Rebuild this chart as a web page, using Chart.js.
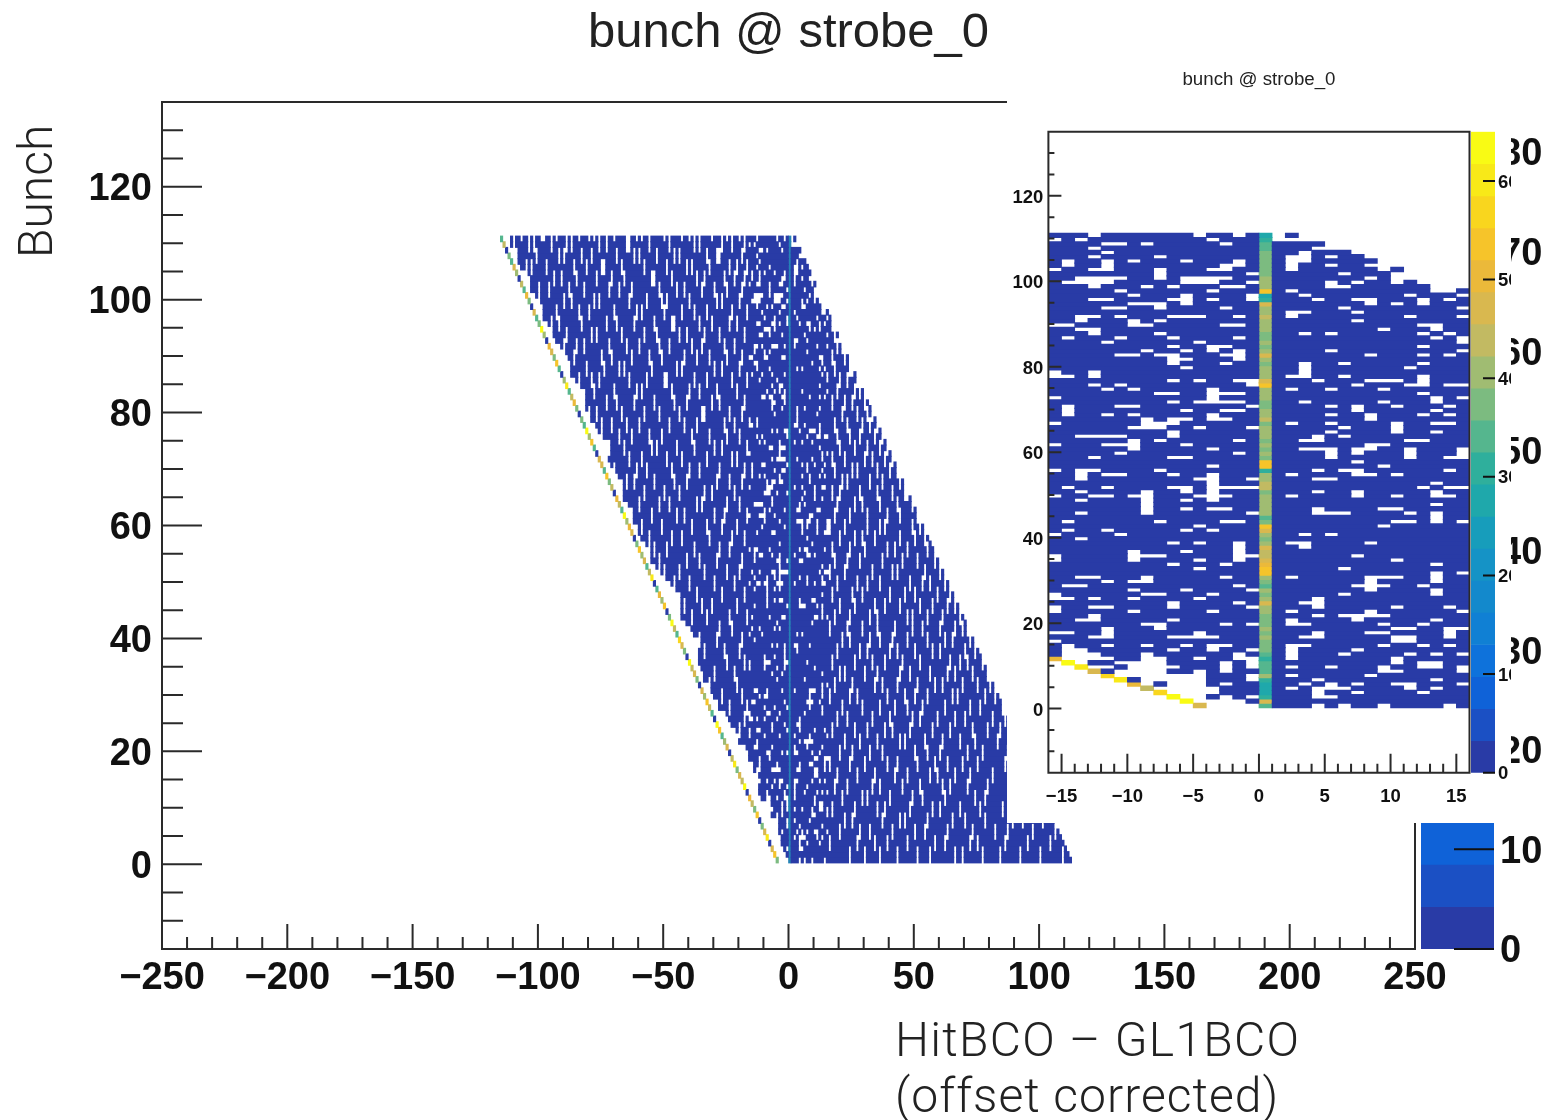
<!doctype html>
<html><head><meta charset="utf-8">
<style>
html,body{margin:0;background:#fff;overflow:hidden}
canvas{position:absolute;display:block}
#inset{background:#fff}
</style>
<script src="https://cdn.jsdelivr.net/npm/chart.js@4"></script>
</head><body>
<canvas id="main" width="1544" height="1120" style="left:0;top:0"></canvas>
<canvas id="mainBar" width="128" height="1120" style="left:1416px;top:0"></canvas>
<canvas id="inset" width="504" height="763" style="left:1007px;top:60px"></canvas>
<canvas id="insetBar" width="41" height="763" style="left:1470px;top:60px"></canvas>
<script>
const titleText = "bunch @ strobe_0";
const yAxisText = "Bunch";
const xAxisLines = ["HitBCO \u2013 GL1BCO", "(offset corrected)"];

const palette = ['#293BA6','#1B50C4','#0F62D8','#0E72DB','#1080D4','#1389CC','#1593C6','#179DBB','#1FA8AB','#2FAF9C','#55B68E','#7CBB80','#A0BC72','#C2BA62','#D9B84F','#EBB93A','#F6C42A','#F9D61E','#F8E918','#F9FB14'];

const mainXTicks = [-250,-200,-150,-100,-50,0,50,100,150,200,250];
const mainXMinor = [-240,-230,-220,-210,-190,-180,-170,-160,-140,-130,-120,-110,-90,-80,-70,-60,-40,-30,-20,-10,10,20,30,40,60,70,80,90,110,120,130,140,160,170,180,190,210,220,230,240];
const yTicks = [0,20,40,60,80,100,120];
const yMinor = [-10,-5,5,10,15,25,30,35,45,50,55,65,70,75,85,90,95,105,110,115,125,130];
const insetXTicks = [-15,-10,-5,0,5,10,15];
const insetXMinor = [-14,-13,-12,-11,-9,-8,-7,-6,-4,-3,-2,-1,1,2,3,4,6,7,8,9,11,12,13,14];
const mainZTicks = [0,10,20,30,40,50,60,70,80];
const insetZTicks = [0,10,20,30,40,50,60];
const mainBandCenters = [2.125,6.375,10.625,14.875,19.125,23.375,27.625,31.875,36.125,40.375,44.625,48.875,53.125,57.375,61.625,65.875,70.125,74.375,78.625,82.875];
const insetBandCenters = [1.625,4.875,8.125,11.375,14.625,17.875,21.125,24.375,27.625,30.875,34.125,37.375,40.625,43.875,47.125,50.375,53.625,56.875,60.125,63.375];

const rowStart = [-5,-6,-7,-8,-9,-10,-11,-12,-13,-14,-15,-16,-17,-18,-19,-20,-21,-22,-23,-24,-25,-26,-27,-28,-29,-30,-31,-32,-33,-34,-35,-36,-37,-38,-39,-40,-41,-42,-43,-44,-45,-46,-47,-48,-49,-50,-51,-52,-53,-54,-55,-56,-57,-58,-59,-60,-61,-62,-63,-64,-65,-66,-67,-68,-69,-70,-71,-72,-73,-74,-75,-76,-77,-78,-79,-80,-81,-82,-83,-84,-85,-86,-87,-88,-89,-90,-91,-92,-93,-94,-95,-96,-97,-98,-99,-100,-101,-102,-103,-104,-105,-106,-107,-108,-109,-110,-111,-112,-113,-114,-115];
const rowEnd = [113,112,111,110,109,108,107,106,105,104,103,102,101,100,99,98,97,96,95,94,93,92,91,90,89,88,87,86,85,84,83,82,81,80,79,78,77,76,75,74,73,72,71,70,69,68,67,66,65,64,63,62,61,60,59,58,57,56,55,54,53,52,51,50,49,48,47,46,45,44,43,42,41,40,39,38,37,36,35,34,33,32,31,30,29,28,27,26,25,24,23,22,21,20,19,18,17,16,15,14,13,12,11,10,9,8,7,6,5,4,3];

const insetGaps = [
[-4,-3,-2,-1,4,6,9,14],[-5,-4,-3,-2],[-6,-5,-3,-1,4,5],[-7,-6,-5,-4,4,7,12],[-8,-7,-6,-5,-4,2,4,5,6,11,13],
[-9,-7,-6,-5,-3,3,5,7,10,11,15],[-9,-8,-7,-6,-5,-1,4,13],[-11,-10,-9,-8,-7,-6,-5,-1,2,8],[-11,-10,-9,-8,-5,-3,9,10,15],[-13,-12,-10,-9,-8,-7,-3,-1,2,5,9,12,13,15],
[-14,-11,-10,-9,-8,-3,-1,10,12,13],[-15,-14,-13,-12,-9,-8,-5,-2,-1,2,10],[-15,-14,-13,-9,-2,2,6,11,13,15],[-15,-14,-7,-4,-1,2,7],[-15,-12,-9,-6,-4,-3,2,3,9,12,14],
[-16,10,11],[-13,-12,-7,-6,-5,-4,3,4,10,11,14],[-16,-15,-12,-5,4,8,9,14],[-12,-8,10,11,14,15],[-9,-8,-3,-1,2,3,9,12],
[-14,-13,-7,2,7,13],[-13,4,6,7,8,9],[-16,-10,-4,2,8,15],[-16,-13,-12,-7,-1,4,10,14],[-7,-2,3,4],
[-16,-15,-13,-10,-5,4],[-16,-9,-8,-4,6,13],[-10,-6,-1,8,13],[-15,-14,-2,7,8,9,12],[-12,-10,-9,8,13],
[-14,-13,-9,-3,2,8,9,10,13],[13,15],[-5,6],[-7,-3,13],[-16,-10,-5,-2,10],
[-16,-10,-9,-8,-2,-1,7],[-10,-6,-2],[-2,3],[-7,-5,-2,2,3,8],[-14],
[-16,-11,3,5],[-15,-12,-6,-4],[-5,9],[-15,-8,-3,-2,10,11,13,15],[13],
[-14,-9,-1,4,5,6,11,13],[-9,-6,-4,-3,4,9,10],[-9,13],[-14,-9,-6,-4],[-16,-13,-12,-10,-9,-5,-4,-3,2,7,10,13,14],
[-14,-9,-6,-4,4,7,13],[-15,-12,-7,-6,-4,-3,-2,-1,12,14,15],[-4,13],[-14,-5,-4,-1,4,5],[-14,-12,-11,-7,-4,2,7,8,10],
[-16,-14,-13,-8,4,6,7,14],[-4,9],[7],[-13,-7,-6,5,11,14,15],[-11,-2,5,7,11,15],
[-10,-4,3,4,5,7,8,11,15],[-16,-12,-11,-10,-6,8,9],[-10,-8,-2,3,4,11,12],[-14,-13,-12,-11,-7,4,6],[-7,5,10,13],
[-10,-9,-8,-5,-1,6,10],[-16,-9,-8,-7,2,5,10,13,14],[-9,-7,-6,-4,-3,8],[-15,-12,-10,-4,5,8,12,14],[-15,-6,-3,-2,7,13],
[-15,-11,-10,-1,5,7,10,14],[-7,-5,-4,-3,-2,3,9,13],[-16,-4,13,15],[-8,-7,-4,-3,-2,12],[-12,-10,-4,2,5,9],
[-13,-11,-1,7,11,12,14,15],[-7,-5,-2,-1,4,8,9,10,12],[-16,-15,-13,2,3,6,12],[-16,-13,3],[-6,3,11],
[-7,-3,3,6,12],[-7,-6,-2],[-11,-10,-8,-7,-3,-2,8,12,14],[-9,-6,-4,-2,5,15],[-7,-4,-3,12],
[-12,-5,15],[-15,-11,-7,-2,13,15],[-13,-8,3,5,12,14],[-14,-13,9,13],[-16,-15,-10,-9,-3,-2,12,13],
[-14,-10,-8,7],[-14,-13,-11,-7,-6,-5,-2,2,11,15],[2,3,7],[-12,-11,-8,-3,6,15],[-10,-9,-8,-6,8,10,12],
[-13,-12,-7,-6,-4,-1,4,7,8,12,14],[-10,-6,-1,3,11,15],[-11,-4,2,13,14],[-13,-9,-7,-3,-2,5,6,13,14],[-15,-14,-13,-12,-6,-5,-4,-1,5,7,10,12,13],
[-14,-13,-12,-11,-8,-6,-5,-4,-3,8,10,11,12],[-8,-1,6,10,11],[-16,-13,-12,-8,-4,-3,2,9],[-15,-12,-3,-2,2,5,8,9],[-15,-12,-10,-6,-2,2,3],
[-13,-8,2,3,5],[-12,3],[-13,4,5],[-12,-11,-9,-3],[-16,-14,-4,1,2,3],
[-13,-5,-2,1]
];

const stripZ = [34,46,30,28,27,28,30,40,33,34,34,30,35,36,38,37,39,36,39,38,36,37,42,39,46,41,38,41,35,37,39,52,54,50,48,43,44,46,40,38,39,48,52,38,35,41,42,39,41,39,37,44,44,42,41,32,52,54,37,39,38,41,37,39,42,41,38,44,42,39,38,37,41,39,42,52,46,39,41,41,37,41,48,39,38,39,37,38,39,41,42,44,41,39,46,30,28,52,42,39,41,38,37,36,36,37,36,35,33,30,26];
const insetEdgeZ = [47,65,65,57,44,50,60,58,46,60,64,50];
const mainEdgeZ = [48,70,60,4,80,62,50,4,72,50,58,66,4,84,56,60,48,80,58,4,62,52,46,70,84,4,44,58,72,52,62,4,48,60,56,84,4,50,62,74,46,56,84,50,4,70,54,66,46,4,80,58,44,62,52,70,48,4,60,66,52,84,44,56,66,4,58,48,70,44,60,62,4,46,72,54,84,44,50,4,48,66,58,44,80,52,4,44,70,50,60,66,4,54,84,48,44,62,4,50,66,44,58,4,52,62,46,50,4,56,44];
const mainEdgeGap = [4,4,3,4,5,4,3,3,2,3,4,3,4,5,6,7,6,5,6,7,6,5,6,6,5,5,4,3,4,3,3,3,2,3,3,3,4,5,6,7,6,6,5,4,5,6,7,8,7,6,5,4,3,2,3,4,3,2,2,3,2,3,4,3,2,2,4,5,4,3,3,3,4,5,6,5,4,4,3,3,3,4,5,6,5,4,3,3,4,5,5,4,3,3,2,3,2,2,3,4,3,2,3,4,3,2,2,3,3,2,2];

const mainSpeckRows = [110,108,106,104,102,100,98,96,94,92,90,88,86,84,82,80,78,76,74,72,70,68,66,64,62,60,58,56,54,52,50,48,46,44,42,40,38,36,34,32,30,28,26,24,22,20,18,16,14,12,10,8,6,4,2,0];
const mainSpeckCols = [
[-114,-112,-107,-99,-98,-93,-84,-80,-78,-70,-61,-59,-50,-43,-40,-31,-25,-20],
[-110,-104,-102,-95,-89,-87,-76,-73,-65,-64,-56,-48,-38,-36,-27,-23,-18],
[-109,-101,-92,-90,-83,-79,-69,-62,-60,-53,-46,-44,-33,-29,-28,-19],
[-105,-103,-97,-86,-81,-75,-74,-67,-58,-49,-41,-39,-32,-24,-21,-17],
[-106,-94,-91,-85,-77,-71,-66,-55,-54,-47,-37,-34,-26,-22,-18],
[-100,-96,-88,-82,-72,-68,-63,-52,-45,-42,-35,-30,-25,-19,17],
[-102,-90,-87,-78,-76,-64,-57,-51,-49,-40,-29,-27,-20,18],
[-99,-93,-84,-80,-70,-61,-59,-50,-43,-38,-33,-23,-17,19],
[-95,-92,-83,-73,-69,-62,-54,-47,-46,-36,-31,-24,-21,17],
[-96,-89,-79,-77,-67,-58,-53,-44,-41,-34,-28,-18,18,20],
[-90,-85,-82,-72,-65,-60,-52,-48,-39,-35,-26,-22,19,21],
[-91,-86,-75,-71,-63,-56,-51,-42,-37,-32,-25,-19,17,22],
[-88,-81,-74,-68,-66,-55,-45,-43,-30,-27,-20,18,24,25],
[-84,-79,-76,-64,-57,-50,-49,-38,-33,-23,-17,20,23,27],
[-86,-78,-70,-61,-59,-47,-40,-36,-29,-21,19,26,28],
[-83,-73,-69,-62,-54,-46,-41,-31,-28,-18,17,22,25,30],
[-80,-77,-67,-58,-52,-44,-35,-34,-24,-19,21,27,31,33],
[-75,-71,-65,-60,-48,-42,-37,-26,-22,18,23,29,32,35],
[-78,-68,-63,-56,-51,-39,-32,-25,-20,19,24,28,34,37],
[-72,-66,-55,-53,-45,-38,-30,-27,-17,20,26,31,36,39],
[-74,-64,-59,-49,-43,-33,-23,-21,17,22,30,33,38,41],
[-70,-61,-57,-47,-40,-36,-28,-18,18,25,27,35,40,43],
[-65,-62,-54,-46,-41,-29,-24,-19,21,23,32,37,44],
[-67,-58,-50,-44,-34,-31,-22,17,20,28,35,41,46,47],
[-60,-52,-48,-37,-35,-25,-20,19,26,29,36,43,49],
[-63,-55,-45,-42,-30,-26,-17,18,24,31,39,44,51],
[-59,-51,-39,-33,-27,-21,16,22,31,36,38,49,52],
[-56,-47,-43,-32,-23,-18,20,26,29,34,44,50,54],
[-54,-49,-38,-28,-24,17,24,30,39,42,47,55],
[-52,-41,-36,-29,-19,18,23,28,37,45,51,58],
[-50,-44,-34,-25,-20,16,22,33,41,43,54,60],
[-46,-40,-30,-22,19,27,31,36,48,53,56,62],
[-48,-37,-27,-18,17,25,29,40,46,50,59,64],
[-42,-35,-31,-21,20,26,34,38,44,52,57,63,66],
[-39,-33,-24,-17,18,24,32,35,47,49,55,61,68],
[-43,-28,-23,16,23,29,35,42,49,53,60,66,69,71],
[-36,-29,-19,21,24,32,36,41,47,55,62,65,72],
[-34,-26,-20,19,28,31,40,43,50,57,60,70,74],
[-37,-25,-18,17,26,33,38,45,52,64,68,71,77],
[-30,-22,20,22,30,35,44,48,56,63,66,73,79],
[-32,-21,18,25,34,37,43,51,58,61,69,75,80],
[-27,-19,16,24,27,39,46,50,55,65,67,78,82],
[-24,-17,21,29,36,42,47,53,62,72,76,85],
[-26,-18,19,23,33,40,49,52,59,66,70,81,86],
[-20,17,26,31,38,41,48,57,64,73,79,84],
[-23,22,28,35,44,46,54,61,68,74,83,91],
[-18,20,25,32,37,50,55,60,71,77,87,93],
[16,24,30,39,43,51,58,63,69,75,86,90],
[19,27,34,42,47,56,59,66,72,81,88,97],
[18,23,33,36,45,52,61,64,71,79,92,96],
[21,29,31,40,49,53,62,74,78,90,99],
[17,26,35,38,48,57,60,68,76,85,94,103],
[22,25,37,44,46,55,65,70,78,89,93,101],
[20,28,32,41,50,54,63,73,82,87,97,106],
[16,27,34,39,47,58,62,72,75,86,95,104],
[24,30,36,43,51,56,66,69,77,84,92,100,109]
];
const speckHeight = 3;
const stripColumn = 0;
const rowEdgeOffset = 0.75;

function bandColor(z, zMax){ return palette[Math.min(19, Math.floor(z / zMax * 20))]; }

function cellRuns(gapSets, edgeGapWidths){
  const out = [];
  rowStart.forEach((start, r) => {
    const gaps = gapSets[r];
    const first = start + 1 + (edgeGapWidths ? edgeGapWidths[r] : 0);
    let runStart = null;
    for (let c = first; c <= rowEnd[r]; c++){
      const filled = c < rowEnd[r] && c !== stripColumn && !gaps.has(c);
      if (filled && runStart === null) runStart = c;
      if (!filled && runStart !== null){ out.push({x:[runStart, c], y:r + rowEdgeOffset}); runStart = null; }
    }
  });
  return out;
}
const insetSets = insetGaps.map(g => new Set(g));
const mainSets = insetGaps.map(g => new Set(g));
mainSpeckRows.forEach((row, i) => {
  mainSpeckCols[i].forEach(c => {
    for (let h = 0; h < speckHeight; h++) if (mainSets[row + h]) mainSets[row + h].add(c);
  });
});

const stripCells = rowStart.map((s, r) => ({x:[stripColumn, stripColumn + 1], y:r + rowEdgeOffset}));
const mainEdgeCells = rowStart.map((s, r) => ({x:[s, s + 1], y:r + rowEdgeOffset}));
const insetEdgeCells = insetEdgeZ.map((z, r) => ({x:[rowStart[r], rowStart[r] + 1], y:r + rowEdgeOffset}));

const tickMarks = {
  id:'tickMarks',
  afterDatasetsDraw(chart, args, opts){
    const {ctx, chartArea:a, scales} = chart;
    ctx.save();
    ctx.strokeStyle = opts.color; ctx.lineWidth = opts.width;
    ctx.beginPath();
    (opts.frame || []).forEach(s => {
      if (s === 'left'){ ctx.moveTo(a.left, a.top - 1); ctx.lineTo(a.left, a.bottom + 1); }
      if (s === 'right'){ ctx.moveTo(a.right, a.top - 1); ctx.lineTo(a.right, a.bottom + 1); }
      if (s === 'top'){ ctx.moveTo(a.left, a.top); ctx.lineTo(a.right, a.top); }
      if (s === 'bottom'){ ctx.moveTo(a.left, a.bottom); ctx.lineTo(a.right, a.bottom); }
    });
    (opts.marks || []).forEach(m => {
      m.values.forEach(v => {
        const p = scales[m.axis].getPixelForValue(v);
        if (m.axis === 'x'){ ctx.moveTo(p, a.bottom); ctx.lineTo(p, a.bottom - m.len); }
        else if (m.side === 'right'){ ctx.moveTo(a.right, p); ctx.lineTo(a.right - m.len, p); }
        else { ctx.moveTo(a.left, p); ctx.lineTo(a.left + m.len, p); }
      });
    });
    ctx.stroke();
    ctx.restore();
  }
};
const axisText = {
  id:'axisText',
  afterDraw(chart){
    const ctx = chart.ctx;
    ctx.save();
    ctx.fillStyle = '#222';
    ctx.font = '300 48px Roboto';
    ctx.textBaseline = 'alphabetic';
    ctx.textAlign = 'left';
    ctx.letterSpacing = '1.3px';
    ctx.fillText(xAxisLines[0], 895, 1056);
    ctx.letterSpacing = '1px';
    ctx.fillText(xAxisLines[1], 895, 1112);
    ctx.translate(52, 258);
    ctx.rotate(-Math.PI / 2);
    ctx.letterSpacing = '0px';
    ctx.fillText(yAxisText, 0, 0);
    ctx.restore();
  }
};
const dash = v => String(v).replace('-', '\u2212');
const setTicks = list => s => { s.ticks = list.map(v => ({value:v})); };
const tickFont = size => ({family:'"Liberation Sans"', size, weight:'bold'});

function barSet(data, color, thickness){
  const d = {data, backgroundColor:color, borderWidth:0, grouped:false, barPercentage:1, categoryPercentage:1};
  if (thickness) d.barThickness = thickness;
  return d;
}
const base = {
  responsive:false, animation:false, devicePixelRatio:1, indexAxis:'y', events:[]
};

new Chart(document.getElementById('main'), {
  type:'bar',
  data:{datasets:[
    barSet(cellRuns(mainSets, mainEdgeGap), palette[0], 6),
    barSet(stripCells, '#2583B6', 6),
    barSet(mainEdgeCells, mainEdgeZ.map(z => bandColor(z, 85)), 6)
  ]},
  options:{...base,
    layout:{padding:{left:0, right:129, top:0, bottom:0}},
    plugins:{legend:{display:false}, tooltip:{enabled:false},
      title:{display:true, text:titleText, fullSize:false, color:'#222', font:{family:'"Liberation Sans"', size:49, weight:'normal'}, padding:{top:4, bottom:39.2}},
      tickMarks:{color:'#2a2a2a', width:2, frame:['left','right','top','bottom'], marks:[
        {axis:'x', values:mainXTicks, len:25},{axis:'x', values:mainXMinor, len:12},
        {axis:'y', values:yTicks, len:40},{axis:'y', values:yMinor, len:21}]}
    },
    scales:{
      x:{type:'linear', min:-250, max:250, afterBuildTicks:setTicks(mainXTicks), afterFit:s=>{s.height=171;},
        grid:{display:false, drawTicks:false}, border:{display:false},
        ticks:{autoSkip:false, maxRotation:0, padding:7, color:'#111', font:tickFont(38), callback:dash}},
      y:{type:'linear', min:-15, max:135, offset:false, afterBuildTicks:setTicks(yTicks), afterFit:s=>{s.width=162;},
        grid:{display:false, drawTicks:false, offset:false}, border:{display:false},
        ticks:{autoSkip:false, padding:10, labelOffset:3, color:'#111', font:tickFont(38), callback:dash}}
    }
  },
  plugins:[tickMarks, axisText]
});

function colorbar(id, centers, zMax, zTicks, font, tickLen, pad, padding, yWidth, labelOffset){
  new Chart(document.getElementById(id), {
    type:'bar',
    data:{datasets:[barSet(centers.map(z => ({x:[0,1], y:z})), centers.map(z => bandColor(z, zMax)))]},
    options:{...base,
      layout:{padding},
      plugins:{legend:{display:false}, tooltip:{enabled:false},
        tickMarks:{color:'#111', width:2, marks:[{axis:'y', side:'right', values:zTicks, len:tickLen}]}},
      scales:{
        x:{type:'linear', display:false, min:0, max:1},
        y:{type:'linear', position:'right', min:0, max:zMax, offset:false, afterBuildTicks:setTicks(zTicks), afterFit:s=>{s.width=yWidth;},
          grid:{display:false, drawTicks:false, offset:false}, border:{display:false},
          ticks:{autoSkip:false, padding:pad, labelOffset, color:'#111', font:tickFont(font)}}
      }
    },
    plugins:[tickMarks]
  });
}
colorbar('mainBar', mainBandCenters, 85, mainZTicks, 38, 40, 6, {left:5, top:102, bottom:171, right:0}, 50, 3);

new Chart(document.getElementById('inset'), {
  type:'bar',
  data:{datasets:[
    barSet(cellRuns(insetSets), palette[0], 4.8),
    barSet(stripCells, stripZ.map(z => bandColor(z, 65)), 4.8),
    barSet(insetEdgeCells, insetEdgeZ.map(z => bandColor(z, 65)), 4.8)
  ]},
  options:{...base,
    layout:{padding:{left:0, right:41.5, top:0, bottom:0}},
    plugins:{legend:{display:false}, tooltip:{enabled:false},
      title:{display:true, text:titleText, fullSize:false, color:'#222', font:{family:'"Liberation Sans"', size:18.7, weight:'normal'}, padding:{top:9, bottom:40.3}},
      tickMarks:{color:'#2a2a2a', width:2, frame:['left','right','top','bottom'], marks:[
        {axis:'x', values:insetXTicks, len:19},{axis:'x', values:insetXMinor, len:9},
        {axis:'y', values:yTicks, len:13},{axis:'y', values:yMinor, len:6}]}
    },
    scales:{
      x:{type:'linear', min:-16, max:16, afterBuildTicks:setTicks(insetXTicks), afterFit:s=>{s.height=50.3;},
        grid:{display:false, drawTicks:false}, border:{display:false},
        ticks:{autoSkip:false, maxRotation:0, padding:13, color:'#111', font:tickFont(18.5), callback:dash}},
      y:{type:'linear', min:-15, max:135, offset:false, afterBuildTicks:setTicks(yTicks), afterFit:s=>{s.width=41.4;},
        grid:{display:false, drawTicks:false, offset:false}, border:{display:false},
        ticks:{autoSkip:false, padding:5, labelOffset:2, color:'#111', font:tickFont(18.5), callback:dash}}
    }
  },
  plugins:[tickMarks]
});
colorbar('insetBar', insetBandCenters, 65, insetZTicks, 18.5, 12, 3, {left:1, top:71.7, bottom:50.3, right:0}, 16, 1.5);
</script>
</body></html>
